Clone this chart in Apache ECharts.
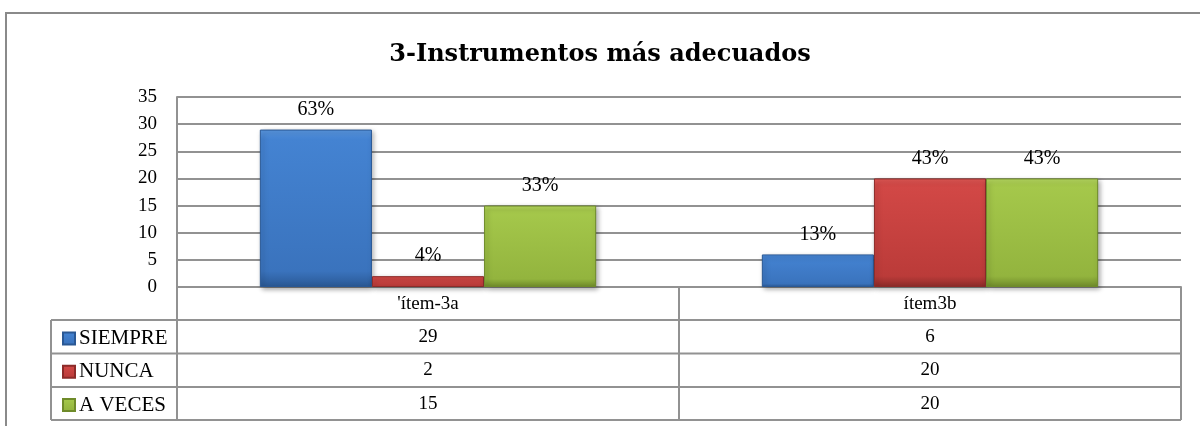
<!DOCTYPE html>
<html>
<head>
<meta charset="utf-8">
<script src="https://cdn.jsdelivr.net/npm/echarts@6/dist/echarts.min.js"></script>
<style>
  html, body { margin: 0; padding: 0; background: #fff; }
  #main { width: 1200px; height: 426px; }
</style>
</head>
<body>
<div id="main"></div>
<script>
// datos del gráfico
var categories = ["'ítem-3a", 'ítem3b'];
var seriesNames = ['SIEMPRE', 'NUNCA', 'A VECES'];
var siempre = [29, 6];
var nunca = [2, 20];
var aVeces = [15, 20];
var yTicks = [0, 5, 10, 15, 20, 25, 30, 35];

var values = [siempre, nunca, aVeces];
// colores tipo bisel (claro arriba, oscuro abajo)
var palettes = [
  ['#5a98e2', '#4483d2', '#3a73bd', '#2a5894'],
  ['#e45a57', '#d24846', '#bb3b39', '#8c2b29'],
  ['#b8da62', '#a5c84b', '#93b43e', '#6f8b2a']
];
var serif = '"Liberation Serif", "DejaVu Serif", serif';
var grey = '#929292';

function grad(p) {
  return new echarts.graphic.LinearGradient(0, 0, 0, 1, [
    { offset: 0, color: p[0] },
    { offset: 0.06, color: p[1] },
    { offset: 0.9, color: p[2] },
    { offset: 1, color: p[3] }
  ]);
}

function totalOf(idx) {
  return values.reduce(function (s, arr) { return s + arr[idx]; }, 0);
}

var myChart = echarts.init(document.getElementById('main'));

var series = seriesNames.map(function (name, i) {
  return {
    name: name,
    type: 'bar',
    data: values[i],
    barGap: 0,
    barCategoryGap: '33%',
    itemStyle: {
      color: grad(palettes[i]),
      borderColor: palettes[i][3],
      borderWidth: 1,
      shadowColor: 'rgba(0,0,0,0.35)',
      shadowBlur: 5,
      shadowOffsetX: 2,
      shadowOffsetY: 2
    },
    label: {
      show: true,
      position: 'top',
      distance: 10,
      fontFamily: serif,
      fontSize: 20,
      color: '#000',
      formatter: function (p) {
        return Math.round(p.value / totalOf(p.dataIndex) * 100) + '%';
      }
    }
  };
});

// leyendas: una por fila de la tabla
var legends = seriesNames.map(function (name, i) {
  return {
    data: [{ name: name, icon: 'rect' }],
    left: 57,
    top: 323 + i * 33.3,
    itemWidth: 12,
    itemHeight: 12,
    itemGap: 0,
    textStyle: { fontFamily: serif, fontSize: 21, color: '#000', padding: [0, 0, 0, -1] },
    selectedMode: false
  };
});

// líneas de la tabla
var lines = [];
[320, 353.5, 387, 420].forEach(function (y) {
  lines.push({ type: 'line', shape: { x1: 51, y1: y, x2: 1181, y2: y }, style: { stroke: grey, lineWidth: 2 } });
});
lines.push({ type: 'line', shape: { x1: 51, y1: 320, x2: 51, y2: 420 }, style: { stroke: grey, lineWidth: 2 } });
// marco exterior
lines.push({ type: 'rect', shape: { x: 6, y: 13, width: 1300, height: 500 }, style: { fill: 'none', stroke: '#8a8a8a', lineWidth: 2 } });

myChart.setOption({
  animation: false,
  title: {
    text: '3-Instrumentos más adecuados',
    left: 'center',
    top: 38,
    textStyle: { fontFamily: '"DejaVu Serif", serif', fontWeight: 'bold', fontSize: 24, color: '#000' }
  },
  legend: legends,
  grid: { left: 177, right: 19, top: 97, bottom: 139, containLabel: false },
  xAxis: {
    type: 'category',
    data: categories,
    axisLine: { show: true, lineStyle: { color: grey, width: 2 } },
    axisTick: { show: true, interval: 0, length: 133, lineStyle: { color: grey, width: 2 } },
    axisLabel: {
      interval: 0,
      margin: 0,
      fontFamily: serif,
      fontSize: 19,
      color: '#000',
      lineHeight: 33.3,
      formatter: function (v, idx) {
        return [v].concat(values.map(function (arr) { return arr[idx]; })).join('\n');
      }
    }
  },
  yAxis: {
    type: 'value',
    min: yTicks[0],
    max: yTicks[yTicks.length - 1],
    interval: 5,
    axisLine: { show: true, lineStyle: { color: grey, width: 2 } },
    axisTick: { show: false },
    axisLabel: { margin: 20, fontFamily: serif, fontSize: 19, color: '#000' },
    splitLine: { lineStyle: { color: grey, width: 2 } }
  },
  series: series,
  graphic: lines
});
</script>
</body>
</html>
